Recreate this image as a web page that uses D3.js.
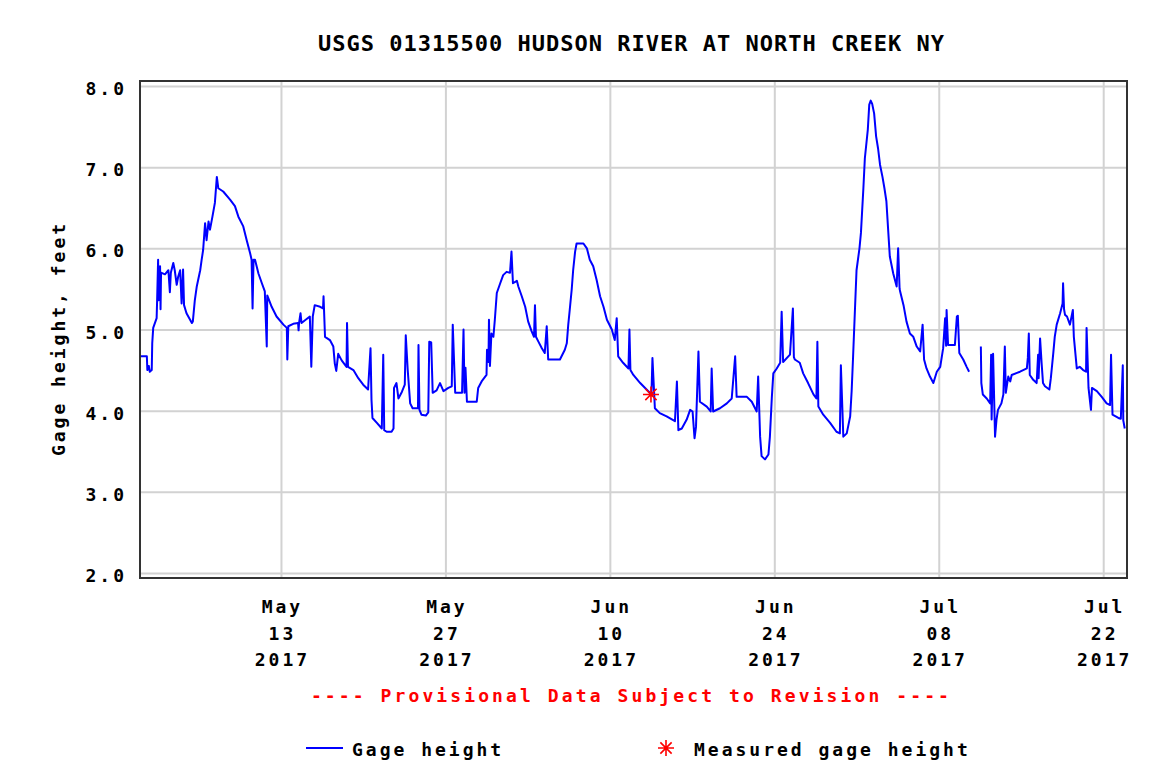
<!DOCTYPE html>
<html>
<head>
<meta charset="utf-8">
<script src="https://cdn.jsdelivr.net/npm/d3@7"></script>
<style>
  html, body { margin: 0; padding: 0; background: #fff; }
  svg { display: block; }
  text { font-family: "DejaVu Sans Mono", monospace; font-weight: bold; }
</style>
</head>
<body>
<div id="chart"></div>
<script>
// ---------------- DATA ----------------
const year = 2017;
const titleText = "USGS 01315500 HUDSON RIVER AT NORTH CREEK NY";
const yLabel = "Gage height, feet";
const noteText = "---- Provisional Data Subject to Revision ----";
const seriesName = "Gage height";
const measuredName = "Measured gage height";

const xDomain = ["05-01 00:00", "07-24 00:00"];
const yDomain = [2, 8];
const xTicks = ["05-13 00:00", "05-27 00:00", "06-10 00:00", "06-24 00:00", "07-08 00:00", "07-22 00:00"];
const yTicks = [2, 3, 4, 5, 6, 7, 8];

const times = [
"05-01 02:00","05-01 14:00","05-01 15:00","05-01 18:00","05-01 20:00","05-02 00:00","05-02 01:00","05-02 03:00","05-02 10:00","05-02 11:00",
"05-02 13:00","05-02 14:00","05-02 17:00","05-02 18:00","05-02 19:00","05-03 03:00","05-03 10:00","05-03 13:00","05-03 15:00","05-03 20:00",
"05-03 23:00","05-04 03:00","05-04 06:00","05-04 10:00","05-04 13:00","05-04 16:00","05-04 18:00","05-04 23:00","05-05 10:00","05-05 12:00",
"05-05 16:00","05-05 20:00","05-06 03:00","05-06 06:00","05-06 09:00","05-06 13:00","05-06 16:00","05-06 20:00","05-06 23:00","05-07 04:00",
"05-07 09:00","05-07 13:00","05-07 16:00","05-08 02:00","05-08 16:00","05-09 02:00","05-09 09:00","05-09 19:00","05-10 02:00","05-10 09:00",
"05-10 12:00","05-10 14:00","05-10 16:00","05-10 19:00","05-11 02:00","05-11 09:00","05-11 15:00","05-11 19:00","05-11 20:00","05-12 05:00",
"05-12 15:00","05-13 05:00","05-13 12:00","05-13 13:00","05-13 15:00","05-14 01:00","05-14 11:00","05-14 12:00","05-14 13:00","05-14 16:00",
"05-14 18:00","05-15 11:00","05-15 14:00","05-15 17:00","05-15 21:00","05-16 08:00","05-16 14:00","05-16 15:00","05-16 18:00","05-17 04:00",
"05-17 11:00","05-17 14:00","05-17 17:00","05-17 21:00","05-18 04:00","05-18 14:00","05-18 15:00","05-18 17:00","05-19 04:00","05-19 14:00",
"05-20 00:00","05-20 10:00","05-20 15:00","05-20 17:00","05-20 19:00","05-21 04:00","05-21 14:00","05-21 17:00","05-21 19:00","05-22 00:00",
"05-22 10:00","05-22 14:00","05-22 15:00","05-22 20:00","05-23 00:00","05-23 07:00","05-23 13:00","05-23 15:00","05-23 19:00","05-24 00:00",
"05-24 05:00","05-24 16:00","05-24 17:00","05-24 19:00","05-24 23:00","05-25 08:00","05-25 13:00","05-25 15:00","05-25 19:00","05-25 22:00",
"05-26 06:00","05-26 13:00","05-26 20:00","05-27 06:00","05-27 13:00","05-27 15:00","05-27 20:00","05-28 10:00","05-28 13:00","05-28 15:00",
"05-28 17:00","05-28 20:00","05-29 16:00","05-29 19:00","05-30 02:00","05-30 12:00","05-30 13:00","05-30 16:00","05-30 17:00","05-30 19:00",
"05-30 22:00","05-31 02:00","05-31 05:00","05-31 09:00","05-31 16:00","05-31 22:00","06-01 05:00","06-01 12:00","06-01 15:00","06-01 18:00",
"06-02 02:00","06-02 05:00","06-02 12:00","06-02 19:00","06-03 01:00","06-03 08:00","06-03 13:00","06-03 15:00","06-03 17:00","06-03 22:00",
"06-04 05:00","06-04 11:00","06-04 15:00","06-04 18:00","06-05 18:00","06-06 04:00","06-06 08:00","06-06 11:00","06-06 14:00","06-06 18:00",
"06-06 21:00","06-07 01:00","06-07 04:00","06-07 18:00","06-08 01:00","06-08 07:00","06-08 14:00","06-08 21:00","06-09 04:00","06-09 11:00",
"06-09 18:00","06-10 04:00","06-10 10:00","06-10 14:00","06-10 17:00","06-11 03:00","06-11 14:00","06-11 16:00","06-11 18:00","06-12 00:00",
"06-12 14:00","06-13 03:00","06-13 13:00","06-13 15:00","06-13 20:00","06-14 06:00","06-14 20:00","06-15 13:00","06-15 17:00","06-15 20:00",
"06-16 03:00","06-16 13:00","06-16 20:00","06-17 01:00","06-17 05:00","06-17 08:00","06-17 13:00","06-17 16:00","06-18 06:00","06-18 14:00",
"06-18 16:00","06-18 19:00","06-19 09:00","06-19 23:00","06-20 09:00","06-20 16:00","06-20 19:00","06-21 16:00","06-22 02:00","06-22 12:00",
"06-22 15:00","06-22 19:00","06-22 22:00","06-23 05:00","06-23 12:00","06-23 15:00","06-23 19:00","06-23 22:00","06-24 05:00","06-24 12:00",
"06-24 15:00","06-24 18:00","06-25 08:00","06-25 14:00","06-25 16:00","06-25 18:00","06-26 04:00","06-26 11:00","06-26 21:00","06-27 08:00",
"06-27 14:00","06-27 16:00","06-27 18:00","06-28 04:00","06-28 18:00","06-29 07:00","06-29 14:00","06-29 16:00","06-29 21:00","06-30 04:00",
"06-30 11:00","06-30 14:00","06-30 17:00","06-30 21:00","07-01 00:00","07-01 06:00","07-01 09:00","07-01 14:00","07-01 17:00","07-01 23:00",
"07-02 02:00","07-02 05:00","07-02 08:00","07-02 12:00","07-02 16:00","07-02 20:00","07-03 00:00","07-03 05:00","07-03 09:00","07-03 13:00",
"07-03 17:00","07-03 20:00","07-04 03:00","07-04 10:00","07-04 13:00","07-04 16:00","07-04 17:00","07-05 00:00","07-05 06:00","07-05 13:00",
"07-05 20:00","07-06 03:00","07-06 10:00","07-06 15:00","07-06 18:00","07-06 23:00","07-07 06:00","07-07 13:00","07-07 20:00","07-08 03:00",
"07-08 09:00","07-08 13:00","07-08 15:00","07-08 16:00","07-08 19:00","07-09 09:00","07-09 13:00","07-09 15:00","07-09 18:00","07-10 02:00",
"07-10 09:00","07-10 14:00","07-11 00:00","07-11 14:00","07-11 15:00","07-11 18:00","07-12 02:00","07-12 09:00","07-12 11:00","07-12 12:00",
"07-12 15:00","07-12 19:00","07-12 22:00","07-13 01:00","07-13 08:00","07-13 12:00","07-13 15:00","07-13 17:00","07-13 22:00","07-14 02:00",
"07-14 05:00","07-14 22:00","07-15 12:00","07-15 14:00","07-15 16:00","07-15 18:00","07-16 01:00","07-16 08:00","07-16 11:00","07-16 12:00",
"07-16 15:00","07-16 18:00","07-16 21:00","07-17 01:00","07-17 10:00","07-17 13:00","07-17 18:00","07-17 21:00","07-18 01:00","07-18 08:00",
"07-18 13:00","07-18 14:00","07-18 16:00","07-18 18:00","07-18 22:00","07-19 04:00","07-19 10:00","07-19 12:00","07-19 18:00","07-20 00:00",
"07-20 07:00","07-20 13:00","07-20 14:00","07-20 18:00","07-20 23:00","07-21 01:00","07-21 11:00","07-21 21:00","07-22 07:00","07-22 14:00",
"07-22 16:00","07-22 19:00","07-23 07:00","07-23 12:00","07-23 16:00","07-23 17:00","07-23 20:00"
];

const gageHeight = [
4.67,4.67,4.50,4.55,4.48,4.50,4.83,5.02,5.14,5.36,
5.86,5.36,5.78,5.25,5.70,5.68,5.73,5.46,5.70,5.82,
5.73,5.55,5.65,5.73,5.32,5.74,5.30,5.20,5.08,5.10,
5.36,5.53,5.73,5.86,5.98,6.31,6.10,6.33,6.23,6.39,
6.56,6.88,6.74,6.70,6.60,6.52,6.39,6.27,6.10,5.94,
5.86,5.26,5.86,5.86,5.69,5.57,5.47,4.79,5.42,5.28,
5.16,5.06,5.02,4.63,5.04,5.07,5.08,4.99,5.08,5.20,
5.08,5.16,4.54,5.16,5.30,5.28,5.26,5.41,4.91,4.87,
4.79,4.58,4.49,4.70,4.62,4.54,5.08,4.54,4.50,4.40,
4.32,4.26,4.77,4.13,3.91,3.85,3.78,4.69,3.76,3.74,
3.74,3.78,4.28,4.34,4.15,4.23,4.32,4.93,4.50,4.09,
4.03,4.03,4.81,4.01,3.95,3.94,3.98,4.85,4.84,4.22,
4.25,4.34,4.24,4.28,4.30,5.06,4.22,4.22,5.00,4.22,
4.53,4.11,4.11,4.28,4.36,4.44,4.75,4.60,5.12,4.55,
4.95,4.91,5.12,5.45,5.57,5.67,5.71,5.70,5.96,5.57,
5.60,5.53,5.41,5.28,5.10,4.98,4.91,5.30,4.91,4.85,
4.77,4.71,5.04,4.63,4.63,4.75,4.83,5.06,5.24,5.49,
5.73,5.96,6.06,6.06,6.00,5.86,5.78,5.61,5.41,5.28,
5.12,5.00,4.87,5.14,4.67,4.59,4.52,5.00,4.50,4.44,
4.34,4.26,4.20,4.65,4.03,3.97,3.93,3.87,4.36,3.76,
3.78,3.89,4.01,3.99,3.66,3.80,4.73,4.11,4.05,3.99,
4.52,3.99,4.03,4.09,4.15,4.67,4.17,4.17,4.11,3.99,
4.42,3.68,3.44,3.40,3.46,3.68,4.17,4.46,4.52,4.59,
5.22,4.60,4.69,5.26,4.66,4.63,4.59,4.46,4.34,4.20,
4.15,4.85,4.05,3.95,3.85,3.74,3.72,4.56,3.68,3.72,
3.93,4.24,4.67,5.28,5.73,6.00,6.19,6.74,7.11,7.46,
7.77,7.82,7.78,7.66,7.38,7.23,7.03,6.88,6.74,6.58,
6.19,5.90,5.69,5.53,6.00,5.50,5.47,5.30,5.10,4.95,
4.91,4.79,4.73,5.06,4.63,4.52,4.42,4.34,4.48,4.54,
4.77,5.14,4.80,5.24,4.81,4.81,5.16,5.17,4.71,4.63,
4.54,4.48,null,4.79,4.34,4.20,4.15,4.09,4.69,3.89,
4.70,3.68,3.89,4.01,4.09,4.20,4.79,4.22,4.42,4.36,
4.44,4.48,4.52,4.65,4.95,4.44,4.38,4.34,4.69,4.40,
4.89,4.60,4.34,4.30,4.26,4.40,4.71,4.91,5.06,5.20,
5.32,5.57,5.25,5.18,5.16,5.06,5.24,4.91,4.52,4.54,
4.50,4.48,5.02,4.28,4.01,4.28,4.24,4.17,4.09,4.07,
4.69,3.95,3.91,3.90,4.56,3.88,3.78
];

const measuredTimes = ["06-13 12:00"];
const measuredHeights = [4.20];

// ---------------- CHART ----------------
const W = 1168, H = 780;
const parse = d3.timeParse("%Y-%m-%d %H:%M");
const toDate = s => parse(`${year}-${s}`);
const fmtMon = d3.timeFormat("%b"), fmtDay = d3.timeFormat("%d"), fmtYr = d3.timeFormat("%Y");

const frame = {left: 140, right: 1127, top: 81, bottom: 578};
const x = d3.scaleTime().domain(xDomain.map(toDate)).range([140, 1126.7]);
const y = d3.scaleLinear().domain(yDomain).range([573, 86]);

const svg = d3.select("#chart").append("svg").attr("width", W).attr("height", H);
svg.append("rect").attr("width", W).attr("height", H).attr("fill", "#fff");

// title
svg.append("text").attr("x", 631).attr("y", 51).attr("text-anchor", "middle")
  .attr("font-size", 22).attr("letter-spacing", 1).attr("dx", 0.5).attr("fill", "#000").text(titleText);

// grid (through axes)
const gx = svg.append("g").attr("transform", `translate(0,${frame.bottom})`)
  .call(d3.axisBottom(x).tickValues(xTicks.map(toDate)).tickSize(-(frame.bottom - frame.top)).tickFormat(""));
gx.select(".domain").remove();
gx.selectAll("line").attr("stroke", "#d2d2d2").attr("stroke-width", 2);

const gy = svg.append("g").attr("transform", `translate(${frame.left},0)`)
  .call(d3.axisLeft(y).tickValues(yTicks).tickSize(-(frame.right - frame.left)).tickFormat(""));
gy.select(".domain").remove();
gy.selectAll("line").attr("stroke", "#d2d2d2").attr("stroke-width", 2);

// y tick labels
const LS = 3;
svg.append("g").selectAll("text").data(yTicks).join("text")
  .attr("x", 124 + LS).attr("y", d => y(d) + 9).attr("text-anchor", "end")
  .attr("font-size", 18).attr("letter-spacing", LS).attr("fill", "#000")
  .text(d => d3.format(".1f")(d));

// x tick labels (3 lines)
const xl = svg.append("g").selectAll("text").data(xTicks.map(toDate)).join("text")
  .attr("text-anchor", "middle").attr("font-size", 18).attr("letter-spacing", LS).attr("fill", "#000");
[[fmtMon, 613], [fmtDay, 640], [fmtYr, 666]].forEach(([f, yy]) => {
  xl.append("tspan").attr("x", d => x(d) + LS / 2).attr("y", yy).text(d => f(d));
});

// y axis label
svg.append("text").attr("transform", "translate(65,340) rotate(-90)")
  .attr("text-anchor", "middle").attr("font-size", 18).attr("letter-spacing", LS).attr("dx", LS / 2)
  .attr("fill", "#000").text(yLabel);

// line
const data = times.map((t, i) => ({t: toDate(t), v: gageHeight[i]}));
const line = d3.line().defined(d => d.v != null).x(d => x(d.t)).y(d => y(d.v));
svg.append("path").datum(data).attr("d", line).attr("fill", "none")
  .attr("stroke", "#0000ff").attr("stroke-width", 2).attr("stroke-linejoin", "round");

// frame
svg.append("rect").attr("x", frame.left).attr("y", frame.top)
  .attr("width", frame.right - frame.left).attr("height", frame.bottom - frame.top)
  .attr("fill", "none").attr("stroke", "#333").attr("stroke-width", 2);

// asterisk marker
function asterisk(r) {
  const d = r * Math.SQRT1_2;
  return `M0,${-r}L0,${r}M${-r},0L${r},0M${-d},${-d}L${d},${d}M${-d},${d}L${d},${-d}`;
}
const measured = measuredTimes.map((t, i) => ({t: toDate(t), v: measuredHeights[i]}));
svg.append("g").selectAll("path").data(measured).join("path")
  .attr("transform", d => `translate(${x(d.t)},${y(d.v)})`)
  .attr("d", asterisk(8)).attr("stroke", "#ff0000").attr("stroke-width", 1.6).attr("fill", "none");

// provisional note
svg.append("text").attr("x", 630).attr("y", 702).attr("text-anchor", "middle")
  .attr("font-size", 18).attr("letter-spacing", 3.1).attr("dx", 1.5).attr("fill", "#ff0000").text(noteText);

// legend
const leg = svg.append("g");
leg.append("line").attr("x1", 306).attr("x2", 343).attr("y1", 748).attr("y2", 748)
  .attr("stroke", "#0000ff").attr("stroke-width", 2);
leg.append("text").attr("x", 352).attr("y", 756).attr("font-size", 18).attr("letter-spacing", LS)
  .attr("fill", "#000").text(seriesName);
leg.append("path").attr("transform", "translate(666,748)").attr("d", asterisk(8))
  .attr("stroke", "#ff0000").attr("stroke-width", 1.6).attr("fill", "none");
leg.append("text").attr("x", 694).attr("y", 756).attr("font-size", 18).attr("letter-spacing", LS)
  .attr("fill", "#000").text(measuredName);
</script>
</body>
</html>
